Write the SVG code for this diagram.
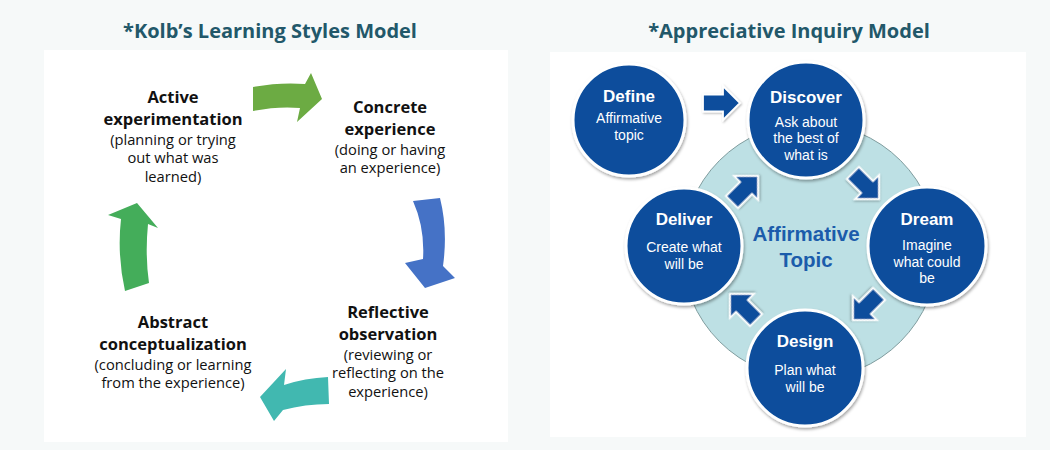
<svg xmlns="http://www.w3.org/2000/svg" width="1050" height="450" viewBox="0 0 1050 450">
<style>
.title{font-family:"Open Sans","Noto Sans",sans-serif;font-weight:700;font-size:20px;fill:#22586a;text-anchor:middle}
.kh{font-family:"Open Sans","Noto Sans",sans-serif;font-weight:700;font-size:16.5px;fill:#111;text-anchor:middle}
.kt{font-family:"Open Sans","Noto Sans",sans-serif;font-size:14.7px;fill:#111;text-anchor:middle}
.ch{font-family:"Liberation Sans",Arial,sans-serif;font-weight:700;font-size:17px;fill:#fff;text-anchor:middle}
.ct{font-family:"Liberation Sans",Arial,sans-serif;font-size:14px;fill:#fff;text-anchor:middle}
.node{fill:#0b4e9c;stroke:#fff;stroke-width:3;filter:url(#sh)}
.arr{fill:#0b4e9c;stroke:#fff;stroke-width:1.8;filter:url(#sh2)}
</style>
<defs>
<filter id="sh" x="-20%" y="-20%" width="140%" height="140%"><feDropShadow dx="1" dy="2" stdDeviation="1.5" flood-color="#000" flood-opacity="0.35"/></filter>
<filter id="sh2" x="-30%" y="-30%" width="160%" height="160%"><feDropShadow dx="1" dy="1" stdDeviation="1" flood-color="#000" flood-opacity="0.3"/></filter>
<path id="blk" d="M-18.5,-8.5 H1.5 V-17 L18.5,0 L1.5,17 V8.5 H-18.5 Z"/>
</defs>
<rect width="1050" height="450" fill="#f6f9f9"/>
<rect x="44" y="50" width="464" height="392" fill="#fff"/>
<rect x="550" y="52" width="476" height="385" fill="#fff"/>
<text class="title" x="270" y="38">*Kolb’s Learning Styles Model</text>
<text class="title" x="789" y="38">*Appreciative Inquiry Model</text>

<g id="kolb-connectors">
<path d="M253,87 Q280,82 305,84 L311,73 L322,99 L297,122 L300,108 Q278,106 253,111 Z" fill="#6cab43"/>
<path d="M413,201 Q425,228 423,259 L405,263 L425,288 L455,278 L443,266 Q448,230 440,198 Z" fill="#4572c6"/>
<path d="M328,377 Q305,378 284,385 L286,369 L260,397 L274,421 L283,410 Q305,404 329,404 Z" fill="#41b8b0"/>
<path d="M125,291 L149,283 Q145,255 148,224 L158,228 L137,203 L108,215 L121,219 Q117,255 125,291 Z" fill="#44ad5a"/>
</g>

<g id="kolb-active">
<text class="kh" x="173" y="103">Active</text>
<text class="kh" x="173" y="125">experimentation</text>
<text class="kt" x="173" y="145">(planning or trying</text>
<text class="kt" x="173" y="163">out what was</text>
<text class="kt" x="173" y="182">learned)</text>
</g>
<g id="kolb-concrete">
<text class="kh" x="390" y="113">Concrete</text>
<text class="kh" x="390" y="135">experience</text>
<text class="kt" x="390" y="155">(doing or having</text>
<text class="kt" x="390" y="173">an experience)</text>
</g>
<g id="kolb-reflective">
<text class="kh" x="388" y="318">Reflective</text>
<text class="kh" x="388" y="340">observation</text>
<text class="kt" x="388" y="360">(reviewing or</text>
<text class="kt" x="388" y="378">reflecting on the</text>
<text class="kt" x="388" y="397">experience)</text>
</g>
<g id="kolb-abstract">
<text class="kh" x="173" y="328">Abstract</text>
<text class="kh" x="173" y="350">conceptualization</text>
<text class="kt" x="173" y="370">(concluding or learning</text>
<text class="kt" x="173" y="388">from the experience)</text>
</g>

<g id="ai-center">
<circle cx="810" cy="251" r="128" fill="#bde0e4" stroke="#7f9c9e" stroke-width="1"/>
<text x="806" y="241" font-family="Liberation Sans,Arial,sans-serif" font-weight="700" font-size="20.5" fill="#1b5cab" text-anchor="middle">Affirmative</text>
<text x="806" y="267" font-family="Liberation Sans,Arial,sans-serif" font-weight="700" font-size="20.5" fill="#1b5cab" text-anchor="middle">Topic</text>
</g>

<g id="ai-connectors">
<use href="#blk" class="arr" transform="translate(721.5,103)"/>
<use href="#blk" class="arr" transform="translate(866,186) rotate(45)"/>
<use href="#blk" class="arr" transform="translate(866,307) rotate(135)"/>
<use href="#blk" class="arr" transform="translate(743,307) rotate(225)"/>
<use href="#blk" class="arr" transform="translate(745,189) rotate(-45)"/>
</g>

<g id="ai-define">
<circle class="node" cx="629" cy="120" r="56"/>
<text class="ch" x="629" y="102">Define</text>
<text class="ct" x="629" y="123">Affirmative</text>
<text class="ct" x="629" y="140">topic</text>
</g>
<g id="ai-discover">
<circle class="node" cx="806" cy="120" r="58"/>
<text class="ch" x="806" y="103">Discover</text>
<text class="ct" x="806" y="127">Ask about</text>
<text class="ct" x="806" y="143">the best of</text>
<text class="ct" x="806" y="160">what is</text>
</g>
<g id="ai-dream">
<circle class="node" cx="927" cy="246" r="59"/>
<text class="ch" x="927" y="225">Dream</text>
<text class="ct" x="927" y="250">Imagine</text>
<text class="ct" x="927" y="267">what could</text>
<text class="ct" x="927" y="283">be</text>
</g>
<g id="ai-design">
<circle class="node" cx="805" cy="368" r="58"/>
<text class="ch" x="805" y="347">Design</text>
<text class="ct" x="805" y="375">Plan what</text>
<text class="ct" x="805" y="392">will be</text>
</g>
<g id="ai-deliver">
<circle class="node" cx="684" cy="246" r="58"/>
<text class="ch" x="684" y="225">Deliver</text>
<text class="ct" x="684" y="252">Create what</text>
<text class="ct" x="684" y="269">will be</text>
</g>
</svg>
